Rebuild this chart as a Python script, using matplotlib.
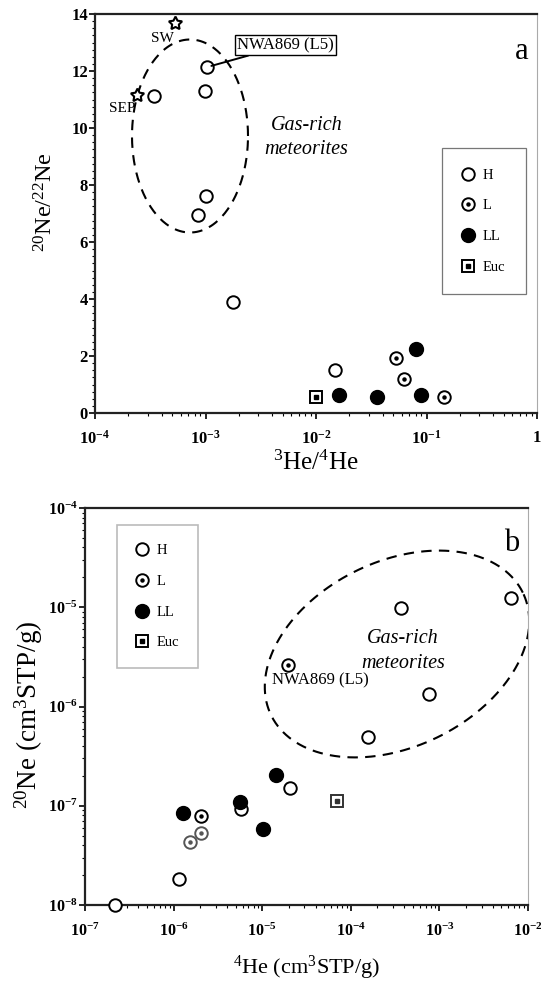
import numpy as np
import matplotlib
matplotlib.use("Agg")
import matplotlib.pyplot as plt
from matplotlib.lines import Line2D
from matplotlib.ticker import MultipleLocator, FixedLocator, LogLocator, NullFormatter

plt.rcParams['font.family'] = 'Liberation Serif'
plt.rcParams['mathtext.fontset'] = 'custom'
plt.rcParams['mathtext.rm'] = 'Liberation Serif'
plt.rcParams['mathtext.it'] = 'Liberation Serif:italic'
plt.rcParams['mathtext.bf'] = 'Liberation Serif:bold'

# %%
# Panel a: 20Ne/22Ne vs 3He/4He
a_H_x = [3.4e-4, 9.8e-4, 1.04e-3, 1.0e-3, 8.6e-4, 1.76e-3, 1.48e-2]
a_H_y = [11.12, 11.3, 12.14, 7.6, 6.95, 3.89, 1.5]
a_L_x = [5.3e-2, 6.3e-2, 0.145]
a_L_y = [1.93, 1.19, 0.55]
a_LL_x = [1.62e-2, 3.6e-2, 8.1e-2, 9.0e-2]
a_LL_y = [0.63, 0.56, 2.24, 0.63]
a_Euc_x = [1.0e-2]
a_Euc_y = [0.56]
sw = (5.3e-4, 13.68)
sep = (2.4e-4, 11.16)
nwa_a = (1.04e-3, 12.14)

# Panel b: 20Ne vs 4He (cm3STP/g)
b_H_x = [2.2e-7, 1.14e-6, 5.8e-6, 2.05e-5, 1.58e-4, 7.6e-4, 3.7e-4, 6.4e-3]
b_H_y = [1.0e-8, 1.83e-8, 9.3e-8, 1.5e-7, 4.9e-7, 1.35e-6, 9.8e-6, 1.24e-5]
b_L_x = [2.05e-6, 1.95e-5]
b_L_y = [7.8e-8, 2.6e-6]
b_Lgray_x = [1.55e-6, 2.05e-6]
b_Lgray_y = [4.3e-8, 5.3e-8]
b_LL_x = [1.29e-6, 5.6e-6, 1.03e-5, 1.44e-5]
b_LL_y = [8.5e-8, 1.1e-7, 5.8e-8, 2.05e-7]
b_Euc_x = [6.9e-5]
b_Euc_y = [1.12e-7]

ms = 9
mew = 1.4


def draw_L(ax, x, y, color='black'):
    ax.plot(x, y, 'o', ms=ms, mfc='white', mec=color, mew=mew, ls='none', clip_on=False, zorder=3)
    ax.plot(x, y, 'o', ms=2.2, mfc=color, mec=color, ls='none', clip_on=False, zorder=4)


def draw_Euc(ax, x, y, color='black'):
    ax.plot(x, y, 's', ms=ms - 1, mfc='white', mec=color, mew=mew, ls='none', clip_on=False, zorder=3)
    ax.plot(x, y, 's', ms=2.2, mfc=color, mec=color, ls='none', clip_on=False, zorder=4)


def legend_handles():
    h = Line2D([], [], marker='o', ms=ms, mfc='white', mec='black', mew=mew, ls='none')
    l1 = Line2D([], [], marker='o', ms=ms, mfc='white', mec='black', mew=mew, ls='none')
    l2 = Line2D([], [], marker='o', ms=2.2, mfc='black', mec='black', ls='none')
    ll = Line2D([], [], marker='o', ms=ms + 1, mfc='black', mec='black', ls='none')
    e1 = Line2D([], [], marker='s', ms=ms - 1, mfc='white', mec='black', mew=mew, ls='none')
    e2 = Line2D([], [], marker='s', ms=2.2, mfc='black', mec='black', ls='none')
    return [h, (l1, l2), ll, (e1, e2)], ['H', 'L', 'LL', 'Euc']


def style_axes(ax):
    for s in ['left', 'bottom', 'top']:
        ax.spines[s].set_linewidth(1.6)
        ax.spines[s].set_color('#222222')
    ax.spines['right'].set_linewidth(0.8)
    ax.spines['right'].set_color('#aaaaaa')
    ax.tick_params(which='major', direction='out', length=4, width=1.2, top=False, right=False)
    ax.tick_params(which='minor', direction='out', length=2.5, width=0.8, top=False, right=False)


def dashed_ellipse(ax, cx, cy, a_px, b_px, ang, w_px, h_px):
    t = np.linspace(0, 2 * np.pi, 300)
    th = np.radians(ang)
    dx = a_px * np.cos(t) * np.cos(th) - b_px * np.sin(t) * np.sin(th)
    dy = a_px * np.cos(t) * np.sin(th) + b_px * np.sin(t) * np.cos(th)
    ax.plot(cx + dx / w_px, cy + dy / h_px, transform=ax.transAxes,
            color='black', lw=1.5, ls=(0, (5, 3.5)), zorder=2)


fig = plt.figure(figsize=(5.41, 9.86), dpi=100)

# %%
# Panel a
axa = fig.add_axes([95 / 541, 1 - 413 / 986, 442 / 541, 399 / 986])
axa.set_xscale('log')
axa.set_xlim(1e-4, 1)
axa.set_ylim(0, 14)
style_axes(axa)

axa.plot(a_H_x, a_H_y, 'o', ms=ms, mfc='white', mec='black', mew=mew, ls='none', zorder=3)
draw_L(axa, a_L_x, a_L_y)
axa.plot(a_LL_x, a_LL_y, 'o', ms=ms + 1, mfc='black', mec='black', ls='none', zorder=3)
draw_Euc(axa, a_Euc_x, a_Euc_y)
axa.plot([sw[0], sep[0]], [sw[1], sep[1]], marker=(5, 1, 0), ms=10, mfc='white', mec='black',
         mew=1.5, ls='none', clip_on=False, zorder=4)
axa.text(sw[0] * 0.97, sw[1] - 0.3, 'SW', ha='right', va='top', fontsize=11)
axa.text(sep[0] * 0.97, sep[1] - 0.25, 'SEP', ha='right', va='top', fontsize=11)

dashed_ellipse(axa, 95 / 442, 277 / 399, 58, 96.5, 0, 442, 399)
axa.text(0.478, 0.69, 'Gas-rich\nmeteorites', transform=axa.transAxes, ha='center', va='center',
         fontsize=14.5, style='italic', linespacing=1.4)

axa.annotate('NWA869 (L5)', xy=nwa_a, xytext=(0.322, 0.922), textcoords='axes fraction',
             fontsize=12, ha='left', va='center',
             bbox=dict(boxstyle='square,pad=0.12', fc='white', ec='black', lw=1.0),
             arrowprops=dict(arrowstyle='-', color='black', lw=1.4, shrinkA=0, shrinkB=3))
axa.text(0.98, 0.905, 'a', transform=axa.transAxes, ha='right', va='center', fontsize=22)

axa.yaxis.set_major_locator(MultipleLocator(2))
axa.yaxis.set_minor_locator(MultipleLocator(0.25))
axa.xaxis.set_major_locator(FixedLocator([1e-4, 1e-3, 1e-2, 1e-1, 1]))
axa.xaxis.set_minor_locator(LogLocator(base=10, subs=np.arange(2, 10) * 1.0, numticks=20))
axa.xaxis.set_minor_formatter(NullFormatter())
axa.set_xticklabels(['$\\mathbf{10^{-4}}$', '$\\mathbf{10^{-3}}$', '$\\mathbf{10^{-2}}$',
                     '$\\mathbf{10^{-1}}$', '$\\mathbf{1}$'])
axa.set_yticks(range(0, 15, 2))
axa.set_yticklabels([str(v) for v in range(0, 15, 2)], fontweight='bold')
axa.tick_params(axis='x', labelsize=12, pad=8)
axa.tick_params(axis='y', labelsize=12, pad=1)
axa.set_xlabel('$^{3}$He/$^{4}$He', fontsize=18, labelpad=2)
axa.set_ylabel('$^{20}$Ne/$^{22}$Ne', fontsize=17.5)
axa.yaxis.set_label_coords(-0.085, 0.53)

handles, labels = legend_handles()
lega = axa.legend(handles, labels, loc='upper left', bbox_to_anchor=(0.785, 0.664),
                  borderaxespad=0, frameon=True, fancybox=False, fontsize=10.5,
                  labelspacing=1.2, handletextpad=0.6, handlelength=0.8,
                  borderpad=1.4)
lega.get_frame().set_edgecolor('#555555')
lega.get_frame().set_linewidth(0.9)

# %%
# Panel b
axb = fig.add_axes([85 / 541, 1 - 905 / 986, 443 / 541, 397 / 986])
axb.set_xscale('log')
axb.set_yscale('log')
axb.set_xlim(1e-7, 1e-2)
axb.set_ylim(1e-8, 1e-4)
style_axes(axb)

axb.plot(b_H_x, b_H_y, 'o', ms=ms, mfc='white', mec='black', mew=mew, ls='none', clip_on=False, zorder=3)
draw_L(axb, b_L_x, b_L_y)
draw_L(axb, b_Lgray_x, b_Lgray_y, color='#555555')
axb.plot(b_LL_x, b_LL_y, 'o', ms=ms + 1, mfc='black', mec='black', ls='none', zorder=3)
draw_Euc(axb, b_Euc_x, b_Euc_y, color='#333333')

dashed_ellipse(axb, 312 / 443, 251 / 397, 140, 92.6, 26, 443, 397)
axb.text(0.718, 0.64, 'Gas-rich\nmeteorites', transform=axb.transAxes, ha='center', va='center',
         fontsize=14.5, style='italic', linespacing=1.4)
axb.text(0.423, 0.565, 'NWA869 (L5)', transform=axb.transAxes, ha='left', va='center', fontsize=12)
axb.text(0.98, 0.91, 'b', transform=axb.transAxes, ha='right', va='center', fontsize=22)

axb.xaxis.set_major_locator(FixedLocator([1e-7, 1e-6, 1e-5, 1e-4, 1e-3, 1e-2]))
axb.yaxis.set_major_locator(FixedLocator([1e-8, 1e-7, 1e-6, 1e-5, 1e-4]))
for axis in [axb.xaxis, axb.yaxis]:
    axis.set_minor_locator(LogLocator(base=10, subs=np.arange(2, 10) * 1.0, numticks=20))
    axis.set_minor_formatter(NullFormatter())
axb.set_xticklabels(['$\\mathbf{10^{-%d}}$' % k for k in range(7, 1, -1)])
axb.set_yticklabels(['$\\mathbf{10^{-%d}}$' % k for k in range(8, 3, -1)])
axb.tick_params(axis='x', labelsize=11.5, pad=9)
axb.tick_params(axis='y', labelsize=11.5, pad=1)
axb.set_xlabel('$^{4}$He (cm$^{3}$STP/g)', fontsize=16, labelpad=10)
axb.set_ylabel('$^{20}$Ne (cm$^{3}$STP/g)', fontsize=19.5)
axb.yaxis.set_label_coords(-0.09, 0.48)

handles, labels = legend_handles()
legb = axb.legend(handles, labels, loc='upper left', bbox_to_anchor=(0.072, 0.957),
                  borderaxespad=0, frameon=True, fancybox=False, fontsize=10.5,
                  labelspacing=1.2, handletextpad=0.6, handlelength=0.8,
                  borderpad=1.3)
legb.get_frame().set_edgecolor('#aaaaaa')
legb.get_frame().set_linewidth(1.2)

fig.savefig('out.png', dpi=100)
